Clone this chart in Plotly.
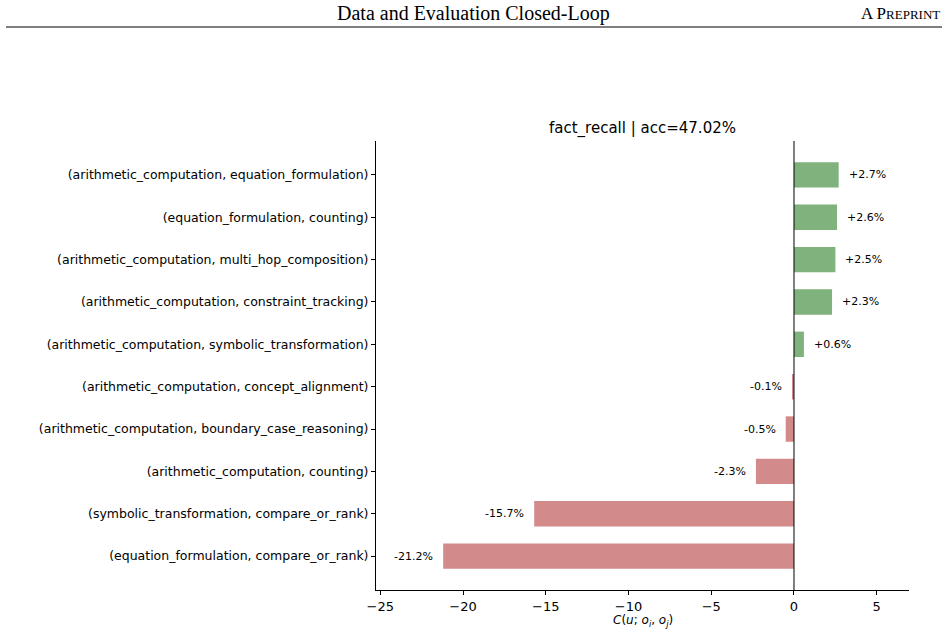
import plotly.graph_objects as go

categories = [
    "(arithmetic_computation, equation_formulation)",
    "(equation_formulation, counting)",
    "(arithmetic_computation, multi_hop_composition)",
    "(arithmetic_computation, constraint_tracking)",
    "(arithmetic_computation, symbolic_transformation)",
    "(arithmetic_computation, concept_alignment)",
    "(arithmetic_computation, boundary_case_reasoning)",
    "(arithmetic_computation, counting)",
    "(symbolic_transformation, compare_or_rank)",
    "(equation_formulation, compare_or_rank)",
]
values = [2.7, 2.6, 2.5, 2.3, 0.6, -0.1, -0.5, -2.3, -15.7, -21.2]
x_ticks = [-25, -20, -15, -10, -5, 0, 5]

GREEN = "#7fb27c"
RED = "#d28a8a"
colors = [GREEN if v >= 0 else RED for v in values]

L, R, T, B = 376, 39, 141, 46
W, H = 948, 636
pw = W - L - R
ph = H - T - B


def px_x(x):
    return (x - L) / pw


def px_y(y):
    return (H - B - y) / ph


fig = go.Figure()
fig.add_trace(go.Bar(
    x=values, y=categories, orientation="h",
    marker=dict(color=colors, line=dict(width=0)),
    width=0.6, hoverinfo="skip",
))

annotations = []
for c, v in zip(categories, values):
    annotations.append(dict(
        x=v, y=c, xref="x", yref="y", text=f"{v:+.1f}%", showarrow=False,
        xanchor="left" if v >= 0 else "right",
        xshift=8 if v >= 0 else -8,
        font=dict(family="DejaVu Sans", size=11, color="#000"),
    ))

annotations.append(dict(
    x=px_x(473), y=px_y(14), xref="paper", yref="paper", xanchor="center", yanchor="middle",
    text="Data and Evaluation Closed-Loop", showarrow=False,
    font=dict(family="Liberation Serif", size=20, color="#000"),
))
annotations.append(dict(
    x=px_x(942), y=px_y(14), xref="paper", yref="paper", xanchor="right", yanchor="middle",
    text="A P<span style='font-size:13px'>REPRINT</span>", showarrow=False,
    font=dict(family="Liberation Serif", size=17, color="#000"),
))
annotations.append(dict(
    x=0.5, y=px_y(621), xref="paper", yref="paper", xanchor="center", yanchor="middle",
    text="<i>C</i>(<i>u</i>; <i>o</i><sub><i>i</i></sub>, <i>o</i><sub><i>j</i></sub>)",
    showarrow=False, font=dict(family="DejaVu Sans", size=12, color="#000"),
))

fig.update_layout(
    width=W, height=H,
    margin=dict(l=L, r=R, t=T, b=B),
    paper_bgcolor="white", plot_bgcolor="white",
    showlegend=False,
    font=dict(family="DejaVu Sans", color="#000"),
    annotations=annotations,
    title=dict(text="fact_recall | acc=47.02%", x=(L + W - R) / 2 / W, xanchor="center",
               y=1 - 128 / H, yanchor="middle",
               font=dict(family="DejaVu Sans", size=15, color="#000")),
    xaxis=dict(
        range=[-25.26, 6.95], tickvals=x_ticks, ticks="outside", ticklen=4, tickwidth=1,
        tickcolor="#000", showline=True, linecolor="#000", linewidth=1, mirror=False,
        showgrid=False, zeroline=False, tickfont=dict(size=13), automargin=False,
    ),
    yaxis=dict(
        categoryorder="array", categoryarray=categories, autorange=False,
        range=[9.8, -0.8], ticks="outside", ticklen=4, tickwidth=1, tickcolor="#000",
        showline=True, linecolor="#000", linewidth=1, showgrid=False, zeroline=False,
        tickfont=dict(size=12.5), automargin=False,
    ),
    shapes=[
        dict(type="line", xref="x", yref="paper", x0=0, x1=0, y0=0, y1=1,
             line=dict(color="#000", width=1)),
        dict(type="line", xref="paper", yref="paper",
             x0=px_x(6), x1=px_x(942), y0=px_y(27), y1=px_y(27),
             line=dict(color="#000", width=1)),
    ],
)

fig.write_html("out.html")
